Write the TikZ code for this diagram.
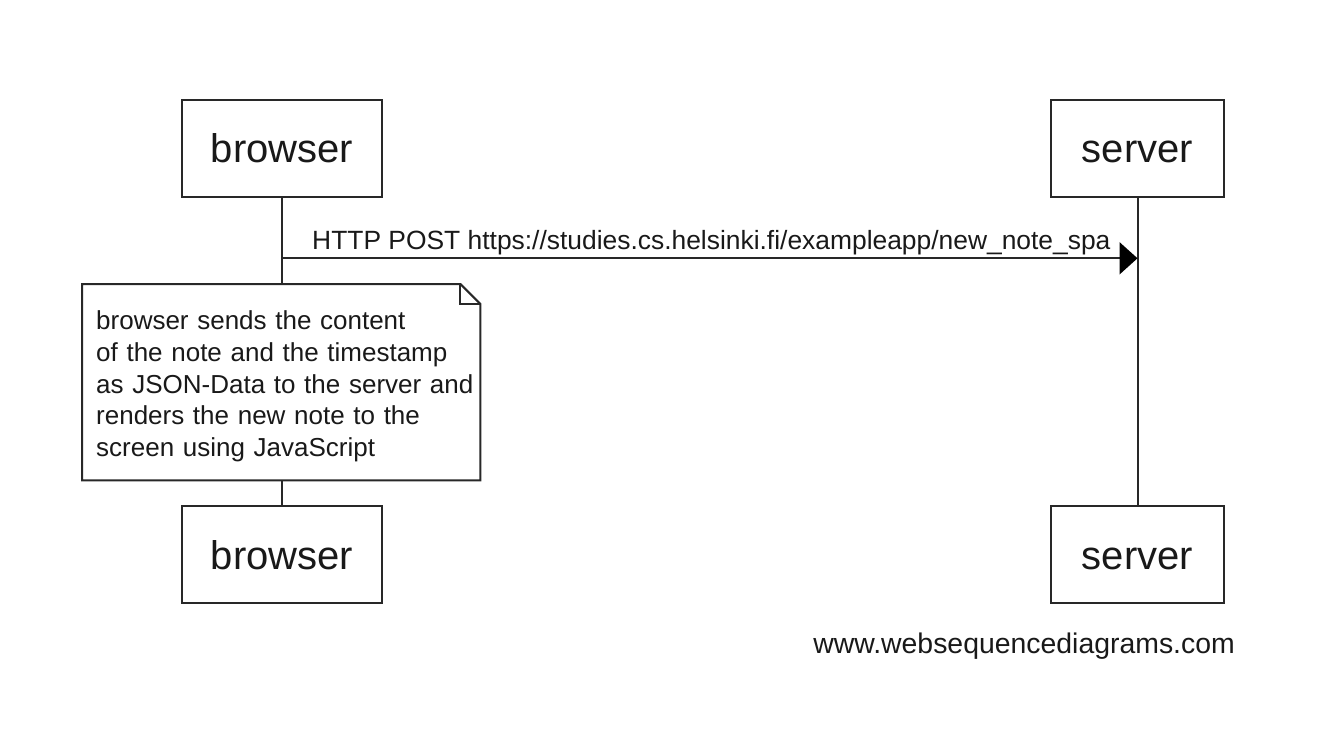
\documentclass[tikz,border=0pt]{standalone}
\usepackage{fontspec}
\setmainfont{Liberation Sans}
\usetikzlibrary{arrows.meta}
\definecolor{inkline}{RGB}{40,40,40}
\definecolor{inktext}{RGB}{25,25,25}
\tikzset{
  actor/.style={draw=inkline, line width=2pt, fill=white, inner sep=0pt,
    minimum height=97pt, text height=29pt, text depth=0pt, text=inktext,
    font=\fontsize{40}{48}\selectfont},
  lifeline/.style={draw=inkline, line width=2pt},
  msg/.style={draw=inkline, line width=2pt,
    -{Triangle[length=18pt, width=32pt, fill=black, color=black]}},
  msglabel/.style={text=inktext, inner sep=0pt, font=\fontsize{26.4}{31.8}\selectfont},
  notebody/.style={inner xsep=14pt, inner ysep=0pt, align=left, text=inktext,
    minimum width=398pt, minimum height=196pt, anchor=north west,
    font=\fontsize{26}{31.8}\selectfont},
  noteline/.style={draw=inkline, line width=2pt, line join=miter},
  brand/.style={text=inktext, inner sep=0pt, font=\fontsize{28.4}{34}\selectfont}
}
\begin{document}
\begin{tikzpicture}[x=1pt, y=-1pt]
  \useasboundingbox (0,0) rectangle (1328,746);

  % participants, top and bottom
  \node[actor, minimum width=200pt] (bt) at (282,148.5) {browser};
  \node[actor, minimum width=173pt] (st) at (1137.5,148.5) {server};
  \node[actor, minimum width=200pt] (bb) at (282,554.5) {browser};
  \node[actor, minimum width=173pt] (sb) at (1137.5,554.5) {server};

  % note over the browser lifeline (strut on the first line lowers the block a little)
  \node[notebody, text width=370pt] (note) at (82,284) {\rule{0pt}{27pt}browser sends the content\\
    of the note and the timestamp\\
    \mbox{as JSON-Data to the server and}\\
    renders the new note to the\\
    screen using JavaScript};
  \draw[noteline] (note.north west) -- ([xshift=-20pt]note.north east)
    -- ([yshift=-20pt]note.north east) -- (note.south east)
    -- (note.south west) -- cycle;
  \draw[noteline] ([xshift=-20pt]note.north east) -- ++(0,20) -- ++(20,0);

  % lifelines
  \draw[lifeline] (bt.south) -- (bt.south |- note.north);
  \draw[lifeline] (bb.north |- note.south) -- (bb.north);
  \draw[lifeline] (st.south) -- (sb.north);

  % message
  \coordinate (m1) at (bt.south |- 0,258.3);
  \coordinate (m2) at (st.south |- 0,258.3);
  \draw[msg] (m1) -- (m2);
  \node[msglabel, anchor=base west] (ml) at ([xshift=30pt, yshift=9pt]m1)
    {HTTP POST https://studies.cs.helsinki.fi/exampleapp/new\_note\_spa};

  % watermark
  \node[brand, anchor=base east] (wm) at (1235,653) {www.websequencediagrams.com};
\end{tikzpicture}
\end{document}
